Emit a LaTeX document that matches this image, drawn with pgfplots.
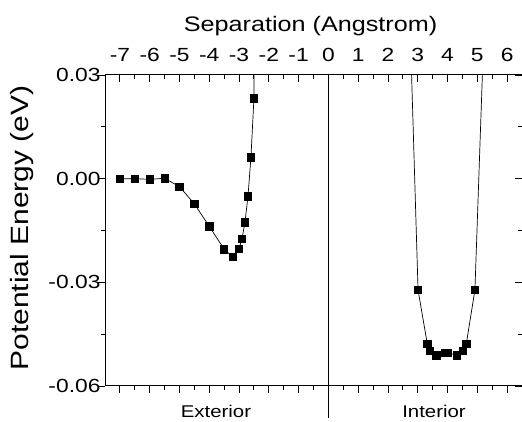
\documentclass[border=0pt]{standalone}
\usepackage{fontspec}
\setmainfont[FakeStretch=1.2]{Liberation Sans}
\usepackage{pgfplots}
\pgfplotsset{compat=1.18}
\begin{document}
\begin{tikzpicture}[x=1pt,y=1pt]
\useasboundingbox (0,0) rectangle (522,422);
\pgfplotsset{base/.style={
  scale only axis, width=417pt, height=311pt,
  at={(105pt,36pt)}, anchor=south west,
  xmin=-7.5, xmax=6.5, ymin=-0.06, ymax=0.03,
  scaled y ticks=false, scaled x ticks=false,
  xtick={-7,-6,...,6}, minor x tick num=1,
  ytick={-0.06,-0.03,0,0.03}, minor y tick num=1,
  major tick length=7pt, minor tick length=4pt,
  every tick/.style={black, line width=0.9pt},
  axis line style={black, line width=1pt},
  tick label style={font=\fontsize{19}{19}\selectfont},
}}
% bottom axis
\begin{axis}[base, axis x line*=bottom, axis y line=none, tick align=outside,
  xticklabels={}, ytick=\empty]
\end{axis}
% right axis
\begin{axis}[base, axis y line*=right, axis x line=none, tick align=inside,
  yticklabels={}, xtick=\empty, clip=false]
\draw[black, line width=1pt] (axis cs:0,0.03) -- (axis cs:0,-0.0693);
\end{axis}
% left axis
\begin{axis}[base, axis y line*=left, axis x line=none, tick align=outside,
  xtick=\empty,
  yticklabels={-0.06,-0.03,0.00,0.03},
  yticklabel style={anchor=east, xshift=6pt},
  ylabel={Potential Energy (eV)},
  ylabel style={at={(axis description cs:-0.199,0.508)}, anchor=center, font=\fontsize{25}{25}\selectfont},
]
\end{axis}
% top axis with data
\begin{axis}[base, axis x line*=top, axis y line=none, tick align=inside,
  ytick=\empty, clip mode=individual,
  xticklabels={-7,-6,-5,-4,-3,-2,-1,0,1,2,3,4,5,6},
  xticklabel style={anchor=base, yshift=13pt},
  xlabel={Separation (Angstrom)},
  xlabel style={at={(axis description cs:0.493,1)}, anchor=base, yshift=43pt, font=\fontsize{21}{21}\selectfont},
]
\addplot[black, line width=0.7pt, mark=square*, mark size=3.7pt] coordinates {
(-7.0,0.0000) (-6.5,0.0000) (-6.0,-0.0002) (-5.5,0.0001) (-5.0,-0.0023)
(-4.5,-0.0073) (-4.0,-0.0138) (-3.5,-0.0204) (-3.2,-0.0227) (-3.0,-0.0203)
(-2.9,-0.0174) (-2.8,-0.0126) (-2.7,-0.0051) (-2.6,0.0062) (-2.5,0.0232)
(-2.4,0.1200)
};
\addplot[black, line width=0.7pt, mark=square*, mark size=3.7pt] coordinates {
(2.70,0.0567) (3.01,-0.0322) (3.32,-0.0478) (3.40,-0.0498) (3.63,-0.0511)
(3.91,-0.0504) (4.02,-0.0504) (4.31,-0.0511) (4.52,-0.0498) (4.63,-0.0478)
(4.92,-0.0322) (5.20,0.0375)
};
\node[anchor=base, yshift=-32pt, font=\fontsize{17}{17}\selectfont] at (axis description cs:0.266,0) {Exterior};
\node[anchor=base, yshift=-32pt, font=\fontsize{17}{17}\selectfont] at (axis description cs:0.789,0) {Interior};
\end{axis}
\end{tikzpicture}
\end{document}
